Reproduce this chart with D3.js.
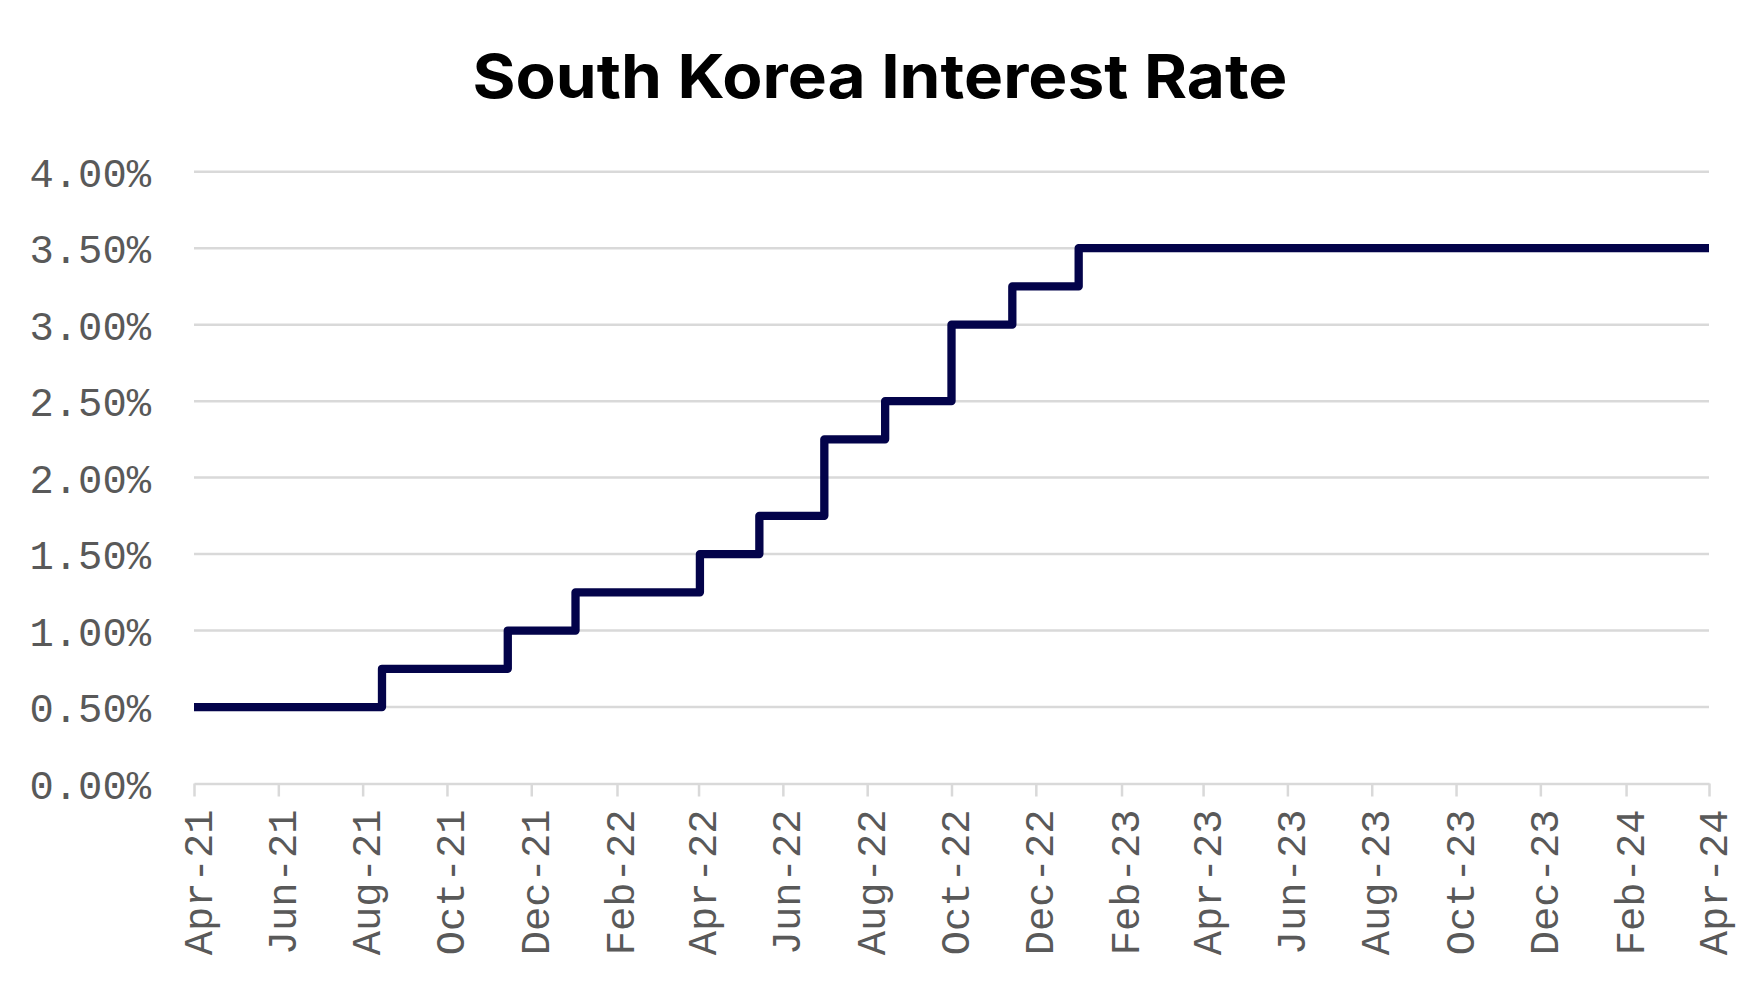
<!DOCTYPE html>
<html>
<head>
<meta charset="utf-8">
<script src="https://cdn.jsdelivr.net/npm/d3@7"></script>
<style>
  html, body { margin: 0; padding: 0; background: #ffffff; }
  svg { display: block; }
</style>
</head>
<body>
<svg id="chart" width="1760" height="990"></svg>
<script>
// ---- data ----
const chartTitle = "South Korea Interest Rate";
// dates at which the rate is set (step-after), plus the end of the period
const rateDates = ["2021-04-01","2021-08-15","2021-11-14","2022-01-02","2022-04-02","2022-05-15",
                   "2022-07-01","2022-08-14","2022-10-01","2022-11-14","2023-01-01","2024-04-01"];
const rateValues = [0.50, 0.75, 1.00, 1.25, 1.50, 1.75, 2.25, 2.50, 3.00, 3.25, 3.50, 3.50];
const yTicks = [0, 0.5, 1, 1.5, 2, 2.5, 3, 3.5, 4];
const xStart = "2021-04-01";
const xEnd = "2024-04-01";
const xTickStepMonths = 2;

// ---- layout ----
const W = 1760, H = 990;
const margin = { left: 194, right: 51, top: 171.7, bottom: 206.5 };
const parse = d3.timeParse("%Y-%m-%d");
const data = rateDates.map((d, i) => ({ date: parse(d), value: rateValues[i] }));

const svg = d3.select("#chart");

const x = d3.scaleTime()
  .domain([parse(xStart), parse(xEnd)])
  .range([margin.left, W - margin.right]);
const y = d3.scaleLinear()
  .domain([0, 4])
  .range([H - margin.bottom, margin.top]);

const monoFont = "'Liberation Mono', 'DejaVu Sans Mono', monospace";
const labelColor = "#595959";
const gridColor = "#d9d9d9";

// title
svg.append("text")
  .attr("x", 880)
  .attr("y", 98)
  .attr("text-anchor", "middle")
  .attr("font-family", "Inter, 'Noto Sans', sans-serif")
  .attr("font-weight", 700)
  .attr("font-size", 61)
  .attr("textLength", 815)
  .attr("lengthAdjust", "spacingAndGlyphs")
  .attr("fill", "#000000")
  .text(chartTitle);

// gridlines (excluding 0, which is the axis line)
svg.append("g")
  .selectAll("line")
  .data(yTicks.filter(t => t !== 0))
  .join("line")
  .attr("x1", x.range()[0])
  .attr("x2", x.range()[1])
  .attr("y1", d => y(d))
  .attr("y2", d => y(d))
  .attr("stroke", gridColor)
  .attr("stroke-width", 2.5);

// y axis labels
const yAxis = d3.axisLeft(y)
  .tickValues(yTicks)
  .tickFormat(d => d.toFixed(2) + "%")
  .tickSize(0)
  .tickPadding(43);
const gy = svg.append("g")
  .attr("transform", `translate(${margin.left},0)`)
  .call(yAxis);
gy.select(".domain").remove();
gy.selectAll("text")
  .attr("font-family", monoFont)
  .attr("font-size", 40.5)
  .attr("fill", labelColor)
  .attr("dy", "0.36em");

// x axis
const xTickDates = d3.timeMonth.range(parse(xStart), d3.timeDay.offset(parse(xEnd), 1), xTickStepMonths);
const xAxis = d3.axisBottom(x)
  .tickValues(xTickDates)
  .tickFormat(d3.timeFormat("%b-%y"))
  .tickSize(13)
  .tickSizeOuter(0)
  .tickPadding(14);
const gx = svg.append("g")
  .attr("transform", `translate(0,${y(0)})`)
  .call(xAxis);
gx.select(".domain")
  .attr("stroke", gridColor)
  .attr("stroke-width", 2.5);
gx.selectAll(".tick line")
  .attr("stroke", gridColor)
  .attr("stroke-width", 2.5);
gx.selectAll(".tick text")
  .attr("font-family", monoFont)
  .attr("font-size", 40.5)
  .attr("fill", labelColor)
  .attr("text-anchor", "end")
  .attr("transform", "rotate(-90)")
  .attr("x", -26)
  .attr("y", 0)
  .attr("dy", "0.42em");

// line
const line = d3.line()
  .x(d => x(d.date))
  .y(d => y(d.value))
  .curve(d3.curveStepAfter);
svg.append("path")
  .datum(data)
  .attr("d", line)
  .attr("fill", "none")
  .attr("stroke", "#03034a")
  .attr("stroke-width", 8.3)
  .attr("stroke-linejoin", "round")
  .attr("stroke-linecap", "butt");
</script>
</body>
</html>
